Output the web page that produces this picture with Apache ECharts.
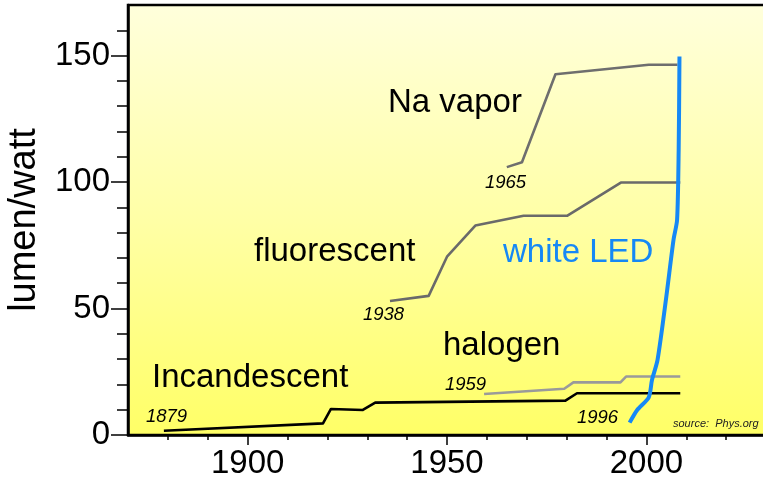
<!DOCTYPE html>
<html>
<head>
<meta charset="utf-8">
<style>
  html, body { margin: 0; padding: 0; background: #fff; }
  #chart { width: 763px; height: 489px; }
</style>
<script src="https://cdn.jsdelivr.net/npm/echarts@6/dist/echarts.min.js"></script>
</head>
<body>
<div id="chart"></div>
<script>
// lumen per watt by year
const incandescentYear = [1879, 1918.9, 1920.9, 1928.9, 1932, 1979.7, 1982.6, 2008.5]
const incandescentLm = [1.7, 4.6, 10.3, 9.9, 12.8, 13.6, 16.5, 16.5]

const halogenYear = [1959.3, 1979.4, 1981.7, 1993.5, 1994.9, 2008.5]
const halogenLm = [16.2, 18.3, 20.8, 20.8, 23.1, 23.1]

const fluorescentYear = [1935.7, 1945.4, 1950, 1957.1, 1969.2, 1980.2, 1993.6, 2008.5]
const fluorescentLm = [53, 55, 70.5, 82.8, 86.7, 86.7, 99.8, 99.8]

const naVaporYear = [1965, 1968.8, 1977.2, 2000.6, 2007.8]
const naVaporLm = [105.9, 107.8, 142.6, 146.4, 146.4]

const ledYear = [1995.8, 1997.7, 2000.6, 2001.4, 2002.8, 2005, 2006.8, 2007.7, 2008.1, 2008.3]
const ledLm = [4.9, 9.9, 14.9, 21.7, 29.7, 54.7, 77.1, 85, 112.7, 149.6]

// axis ticks
const xMajorTicks = [1900, 1950, 2000]
const xMinorTicks = [1880, 1890, 1910, 1920, 1930, 1940, 1960, 1970, 1980, 1990, 2010, 2020]
const yMajorTicks = [0, 50, 100, 150]
const yMinorTicks = [10, 20, 30, 40, 60, 70, 80, 90, 110, 120, 130, 140, 160]

const FONT = '"Liberation Sans", Arial, sans-serif'

function zip(xs, ys) {
  return xs.map((x, i) => [x, ys[i]])
}

function lineSeries(name, xs, ys, color, width, smooth) {
  return {
    name: name,
    type: 'line',
    data: zip(xs, ys),
    showSymbol: false,
    symbol: 'none',
    smooth: smooth || false,
    lineStyle: { color: color, width: width, join: 'round' },
    z: 3
  }
}

function label(text, x, y, size, color, italic) {
  return {
    type: 'text',
    x: x,
    y: y,
    z: 10,
    style: {
      text: text,
      fill: color,
      font: (italic ? 'italic ' : '') + size + 'px ' + FONT,
      align: 'left',
      verticalAlign: 'middle'
    }
  }
}

const chart = echarts.init(document.getElementById('chart'), null, { renderer: 'canvas' })

chart.setOption({
  animation: false,
  backgroundColor: '#fff',
  grid: {
    left: 128,
    right: -3,
    top: 5,
    bottom: 54,
    outerBoundsMode: 'none',
    containLabel: false,
    show: true,
    borderColor: '#000',
    borderWidth: 2.5,
    backgroundColor: {
      type: 'linear', x: 0, y: 0, x2: 0, y2: 1,
      colorStops: [
        { offset: 0, color: '#ffffdc' },
        { offset: 0.5, color: '#ffffa6' },
        { offset: 1, color: '#ffff66' }
      ]
    }
  },
  xAxis: [{
    type: 'value',
    min: 1870,
    max: 2030,
    position: 'bottom',
    axisLine: { show: true, onZero: false, lineStyle: { color: '#000', width: 2.5 } },
    axisTick: { show: true, customValues: xMajorTicks, length: 10, lineStyle: { color: '#000', width: 1.5 } },
    axisLabel: {
      customValues: xMajorTicks,
      formatter: v => String(v),
      margin: 12,
      color: '#000',
      fontSize: 33,
      fontFamily: FONT
    },
    splitLine: { show: false }
  }, {
    type: 'value',
    min: 1870,
    max: 2030,
    position: 'bottom',
    axisLine: { show: false },
    axisTick: { show: true, customValues: xMinorTicks, length: 5, lineStyle: { color: '#000', width: 1.5 } },
    axisLabel: { show: false },
    splitLine: { show: false }
  }],
  yAxis: [{
    type: 'value',
    min: 0,
    max: 170,
    position: 'left',
    name: 'lumen/watt',
    nameLocation: 'middle',
    nameGap: 84,
    nameTextStyle: { color: '#000', fontSize: 38, fontFamily: FONT },
    axisLine: { show: true, onZero: false, lineStyle: { color: '#000', width: 2.5 } },
    axisTick: { show: true, customValues: yMajorTicks, length: 17, lineStyle: { color: '#000', width: 1.5 } },
    axisLabel: { customValues: yMajorTicks, margin: 18, color: '#000', fontSize: 33, fontFamily: FONT },
    splitLine: { show: false }
  }, {
    type: 'value',
    min: 0,
    max: 170,
    position: 'left',
    axisLine: { show: false },
    axisTick: { show: true, customValues: yMinorTicks, length: 11, lineStyle: { color: '#000', width: 1.5 } },
    axisLabel: { show: false },
    splitLine: { show: false }
  }],
  series: [
    lineSeries('Incandescent', incandescentYear, incandescentLm, '#000', 2.6),
    lineSeries('halogen', halogenYear, halogenLm, '#9a9a9a', 2.6),
    lineSeries('fluorescent', fluorescentYear, fluorescentLm, '#6a6a6a', 2.6),
    lineSeries('Na vapor', naVaporYear, naVaporLm, '#6e6e6e', 2.6),
    lineSeries('white LED', ledYear, ledLm, '#1688f5', 4, 0.25)
  ],
  graphic: [
    label('Na vapor', 388, 102.5, 33, '#000'),
    label('fluorescent', 254, 251.5, 33, '#000'),
    label('white LED', 503, 252.5, 33, '#1688f5'),
    label('halogen', 443, 346, 33, '#000'),
    label('Incandescent', 152, 377.5, 33, '#000'),
    label('1965', 485, 183, 18.5, '#000', true),
    label('1938', 363, 314.5, 18.5, '#000', true),
    label('1959', 445, 384.5, 18.5, '#000', true),
    label('1879', 146, 417, 18.5, '#000', true),
    label('1996', 577, 418, 18.5, '#000', true),
    label('source:  Phys.org', 673, 424, 11, '#222', true)
  ]
})
</script>
</body>
</html>
